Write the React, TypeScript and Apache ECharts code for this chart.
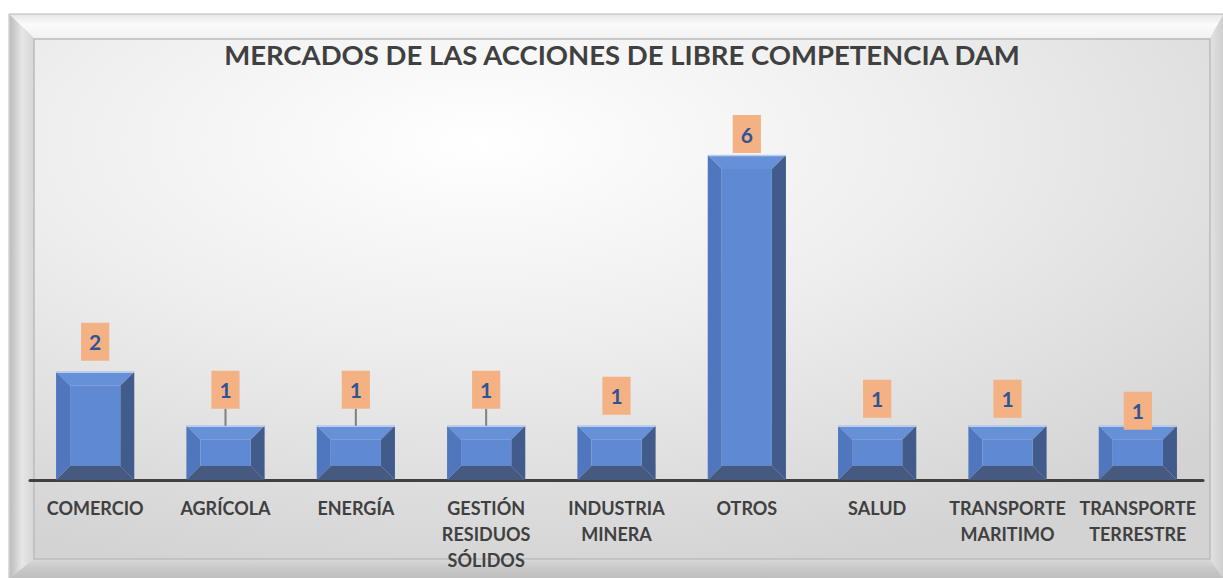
import React, { useEffect, useRef } from "react";
import * as echarts from "echarts";

const categories = [
  "COMERCIO",
  "AGRÍCOLA",
  "ENERGÍA",
  "GESTIÓN RESIDUOS SÓLIDOS",
  "INDUSTRIA MINERA",
  "OTROS",
  "SALUD",
  "TRANSPORTE MARITIMO",
  "TRANSPORTE TERRESTRE",
];
const values = [2, 1, 1, 1, 1, 6, 1, 1, 1];
const titleText = "MERCADOS DE LAS ACCIONES DE LIBRE COMPETENCIA DAM";

// label placement (style, not data)
const labelGap = [11, 17, 17, 17, 11, 2, 8, 8, -4];
const hasLeader = [false, true, true, true, false, false, false, false, false];

export default function App() {
  const ref = useRef<HTMLDivElement>(null);
  useEffect(() => {
    if (!ref.current) return;
    const chart = echarts.init(ref.current, undefined, { renderer: "svg" });
    const W = 1223;
    const H = 578;
    const font = "Lato, 'Open Sans', sans-serif";
    const option: any = {
      animation: false,
      backgroundColor: "#ffffff",
      title: {
        text: titleText,
        left: 617,
        top: 35,
        textAlign: "center",
        textStyle: { fontFamily: font, fontSize: 27.5, fontWeight: "bold", color: "#404040" },
      },
      graphic: [
        {
          type: "rect",
          z: -10,
          silent: true,
          shape: { x: 9, y: 14, width: W - 9, height: H - 14 },
          style: { fill: "#e4e4e4", stroke: "#b8b8b8", lineWidth: 1 },
        },
        {
          type: "polygon",
          z: -9,
          silent: true,
          shape: { points: [[10, 15], [W, 15], [W, 38], [34, 38]] },
          style: {
            fill: new echarts.graphic.LinearGradient(0, 0, 0, 1, [
              { offset: 0, color: "#e8e8e8" },
              { offset: 0.4, color: "#fbfbfb" },
              { offset: 1, color: "#f2f2f2" },
            ]),
          },
        },
        {
          type: "polygon",
          z: -9,
          silent: true,
          shape: { points: [[10, 15], [34, 38], [34, 559], [10, H]] },
          style: {
            fill: new echarts.graphic.LinearGradient(0, 0, 1, 0, [
              { offset: 0, color: "#bdbdbd" },
              { offset: 0.5, color: "#e6e6e6" },
              { offset: 1, color: "#d6d6d6" },
            ]),
          },
        },
        {
          type: "polygon",
          z: -9,
          silent: true,
          shape: { points: [[10, H], [34, 559], [1210, 559], [W, H]] },
          style: {
            fill: new echarts.graphic.LinearGradient(0, 0, 0, 1, [
              { offset: 0, color: "#d9d9d9" },
              { offset: 0.5, color: "#c8c8c8" },
              { offset: 1, color: "#bfbfbf" },
            ]),
          },
        },
        {
          type: "polygon",
          z: -9,
          silent: true,
          shape: { points: [[W, 15], [W, H], [1210, 559], [1210, 38]] },
          style: {
            fill: new echarts.graphic.LinearGradient(0, 0, 1, 0, [
              { offset: 0, color: "#e2e2e2" },
              { offset: 1, color: "#cfcfcf" },
            ]),
          },
        },
        {
          type: "rect",
          z: -8,
          silent: true,
          shape: { x: 34, y: 39, width: 1176, height: 520 },
          style: {
            fill: new echarts.graphic.RadialGradient(0.38, 0.2, 0.85, [
              { offset: 0, color: "#ffffff" },
              { offset: 0.45, color: "#eeeeee" },
              { offset: 1, color: "#d3d3d3" },
            ]),
            stroke: "#bcbcbc",
            lineWidth: 1.5,
          },
        },
      ],
      grid: { left: 30, right: W - 1203, top: 155, bottom: H - 480, containLabel: false },
      xAxis: {
        type: "category",
        data: categories,
        axisLine: { lineStyle: { color: "#404040", width: 3 } },
        axisTick: { show: false },
        axisLabel: {
          interval: 0,
          margin: 15,
          fontFamily: font,
          fontSize: 18,
          fontWeight: "bold",
          color: "#404040",
          lineHeight: 26,
          formatter: (s: string) => s.split(" ").join("\n"),
        },
      },
      yAxis: {
        type: "value",
        min: 0,
        max: 6,
        show: false,
        splitLine: { show: false },
      },
      series: [
        {
          type: "custom",
          z: 2,
          data: values.map((v, i) => [i, v]),
          encode: { x: 0, y: 1 },
          renderItem: (params: any, api: any) => {
            const i = api.value(0);
            const v = api.value(1);
            const top = api.coord([i, v]);
            const base = api.coord([i, 0]);
            const w = api.size([1, 0])[0] * 0.6;
            const cx = top[0];
            const x0 = cx - w / 2;
            const x1 = cx + w / 2;
            const y0 = top[1];
            const y1 = base[1];
            const b = 14;
            const children: any[] = [
              {
                type: "polygon",
                shape: { points: [[x0, y0], [x1, y0], [x1 - b, y0 + b], [x0 + b, y0 + b]] },
                style: { fill: "#6690d8" },
              },
              {
                type: "polygon",
                shape: { points: [[x0, y0], [x0 + b, y0 + b], [x0 + b, y1 - b], [x0, y1]] },
                style: { fill: "#5077bd" },
              },
              {
                type: "polygon",
                shape: { points: [[x1, y0], [x1, y1], [x1 - b, y1 - b], [x1 - b, y0 + b]] },
                style: { fill: "#415b8b" },
              },
              {
                type: "polygon",
                shape: { points: [[x0, y1], [x0 + b, y1 - b], [x1 - b, y1 - b], [x1, y1]] },
                style: { fill: "#46597f" },
              },
              {
                type: "rect",
                shape: { x: x0 + b, y: y0 + b, width: w - 2 * b, height: y1 - y0 - 2 * b },
                style: { fill: "#5f89d3" },
              },
              {
                type: "line",
                shape: { x1: x0, y1: y0 + 0.5, x2: x1, y2: y0 + 0.5 },
                style: { stroke: "#b9cdee", lineWidth: 1.5 },
              },
            ];
            if (hasLeader[i]) {
              children.push({
                type: "line",
                shape: { x1: cx, y1: y0, x2: cx, y2: y0 - labelGap[i] },
                style: { stroke: "#7f7f7f", lineWidth: 2 },
              });
            }
            return { type: "group", children };
          },
        },
        {
          type: "bar",
          z: 3,
          barWidth: "60%",
          itemStyle: { color: "rgba(0,0,0,0)" },
          data: values.map((v, i) => ({ value: v, label: { distance: labelGap[i] } })),
          label: {
            show: true,
            position: "top",
            backgroundColor: "#f4b183",
            padding: [9, 8, 9, 8],
            fontFamily: font,
            fontSize: 21,
            lineHeight: 20,
            fontWeight: "bold",
            color: "#2f5496",
          },
        },
      ],
    };
    chart.setOption(option);
    return () => chart.dispose();
  }, []);
  return (
    <div
      ref={ref}
      style={{ position: "fixed", left: 0, top: 0, width: 1223, height: 578 }}
    />
  );
}
